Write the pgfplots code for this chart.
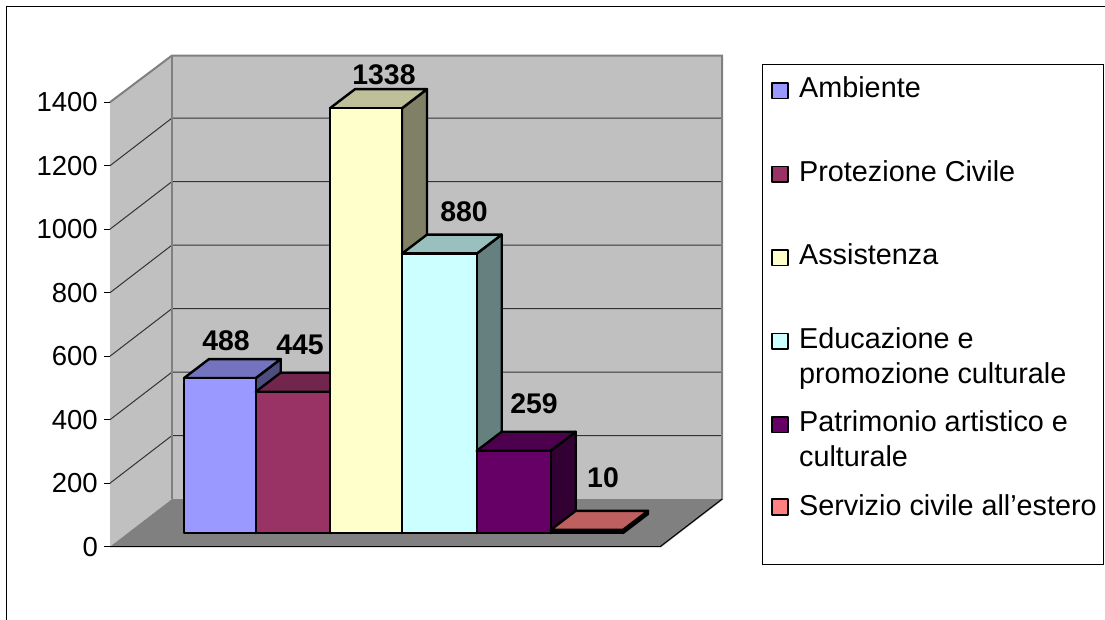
\documentclass[border=0pt]{standalone}
\usepackage{fontspec}
\setmainfont{Liberation Sans}
\usepackage{pgfplots}
\pgfplotsset{compat=1.18}
\definecolor{wallc}{HTML}{C0C0C0}
\definecolor{floorc}{HTML}{808080}
\definecolor{aF}{HTML}{9999FF}\definecolor{aT}{HTML}{7373BF}\definecolor{aS}{HTML}{4D4D80}
\definecolor{bF}{HTML}{993366}\definecolor{bT}{HTML}{73264D}\definecolor{bS}{HTML}{4D1A33}
\definecolor{cF}{HTML}{FFFFCC}\definecolor{cT}{HTML}{BFBF99}\definecolor{cS}{HTML}{808066}
\definecolor{dF}{HTML}{CCFFFF}\definecolor{dT}{HTML}{99BFBF}\definecolor{dS}{HTML}{668080}
\definecolor{eF}{HTML}{660066}\definecolor{eT}{HTML}{4D004D}\definecolor{eS}{HTML}{330033}
\definecolor{fF}{HTML}{FF8080}\definecolor{fT}{HTML}{BF6060}\definecolor{fS}{HTML}{804040}
\pgfplotsset{
  swA/.style={legend image code/.code={\path (3pt,20pt);\draw[##1,line width=1.8pt] (7pt,14.5pt) rectangle ++(15.5pt,15.5pt);}},
  swB/.style={legend image code/.code={\path (3pt,20pt);\draw[##1,line width=1.8pt] (7pt,8.5pt) rectangle ++(15.5pt,15.5pt);}},
}
% bar: x0, x1, value, front colour, top colour, side colour, legend text, swatch style
\newcommand{\threedbar}[8]{%
  \pgfmathsetmacro{\yBase}{43}%
  \pgfmathsetmacro{\yTop}{43+#3}%
  \pgfmathsetmacro{\yBack}{43+#3+60}%
  \pgfmathsetmacro{\yBaseBack}{43+60}%
  \pgfmathsetmacro{\xA}{#1+25}%
  \pgfmathsetmacro{\xB}{#2+25}%
  \addplot[forget plot,draw=black,line width=2.4pt,line join=round,fill=#6]
    coordinates {(#2,\yBase)(\xB,\yBaseBack)(\xB,\yBack)(#2,\yTop)} -- cycle;
  \addplot[forget plot,draw=black,line width=2.4pt,line join=round,fill=#5]
    coordinates {(#1,\yTop)(#2,\yTop)(\xB,\yBack)(\xA,\yBack)} -- cycle;
  \addplot[#8,draw=black,line width=2.4pt,line join=round,fill=#4]
    coordinates {(#1,\yBase)(#2,\yBase)(#2,\yTop)(#1,\yTop)} -- cycle;
  \addlegendentry{#7}%
}
\newcommand{\legtxt}[2][79.5pt]{\parbox[t][#1][t]{298pt}{\strut #2}}
\newcommand{\vallab}{\bfseries\fontsize{28.4}{30}\selectfont}
\begin{document}
\begin{tikzpicture}
\useasboundingbox (0,0) rectangle (1105pt,620pt);
\draw[black,line width=1pt] (6.5pt,0) -- (6.5pt,613.5pt) -- (1105pt,613.5pt);
\begin{axis}[
  at={(110pt,73.3pt)},anchor=south west,
  scale only axis,width=550pt,height=444.5pt,
  xmin=110,xmax=660,ymin=0,ymax=1400,
  clip=false,
  axis x line=none,
  axis y line=left,
  axis line style={-,black,line width=1pt},
  xtick=\empty,
  ytick={0,200,400,600,800,1000,1200,1400},
  tick align=outside,
  major tick length=6pt,
  tick style={black,line width=1pt},
  yticklabel style={font=\fontsize{27.5}{30}\selectfont,
    /pgf/number format/assume math mode=true,
    /pgf/number format/set thousands separator={},inner xsep=6pt},
  legend cell align=left,
  legend style={
    at={(1.1855,1.0866)},anchor=north west,
    draw=black,line width=1pt,
    font=\fontsize{28.8}{35}\selectfont,
    nodes={text depth=,text height=},
    inner xsep=4.5pt,inner ysep=7pt,
    row sep=0pt,
    /tikz/every odd column/.append style={column sep=8.5pt},
  },
]
% walls and floor
\addplot[forget plot,fill=wallc,draw=none] coordinates {(110,0)(172,150)(172,1547)(110,1400)} -- cycle;
\addplot[forget plot,fill=wallc,draw=none] coordinates {(172,150)(722,150)(722,1547)(172,1547)} -- cycle;
\addplot[forget plot,fill=floorc,draw=none] coordinates {(110,0)(660,0)(722,150)(172,150)} -- cycle;
% gridlines
\addplot[forget plot,black!80,line width=1pt] coordinates {(110,200)(172,350)(722,350)};
\addplot[forget plot,black!80,line width=1pt] coordinates {(110,400)(172,550)(722,550)};
\addplot[forget plot,black!80,line width=1pt] coordinates {(110,600)(172,750)(722,750)};
\addplot[forget plot,black!80,line width=1pt] coordinates {(110,800)(172,950)(722,950)};
\addplot[forget plot,black!80,line width=1pt] coordinates {(110,1000)(172,1150)(722,1150)};
\addplot[forget plot,black!80,line width=1pt] coordinates {(110,1200)(172,1350)(722,1350)};
% wall borders
\addplot[forget plot,floorc,line width=2pt] coordinates {(110,1400)(172,1547)(722,1547)(722,150)(660,0)};
\addplot[forget plot,floorc,line width=2pt] coordinates {(172,150)(172,1547)};
\addplot[forget plot,black,line width=1pt] coordinates {(110,0)(660,0)(722,150)};
% bars
\threedbar{184}{255.7}{488}{aF}{aT}{aS}{\legtxt{Ambiente}}{swA}
\threedbar{255.7}{330}{445}{bF}{bT}{bS}{\legtxt{Protezione Civile}}{swA}
\threedbar{330}{402}{1338}{cF}{cT}{cS}{\legtxt{Assistenza}}{swA}
\threedbar{402}{476.7}{880}{dF}{dT}{dS}{\legtxt{Educazione e\\promozione culturale}}{swA}
\threedbar{476.7}{550.7}{259}{eF}{eT}{eS}{\legtxt{Patrimonio artistico e\\culturale}}{swA}
\threedbar{550.7}{623}{10}{fF}{fT}{fS}{\legtxt[65pt]{Servizio civile all’estero}}{swB}
\addplot[forget plot,black,line width=3.5pt] coordinates {(550.7,48)(623,48)};
% value labels
\node[font=\vallab] at (axis cs:226,{(546.7-341)/0.3175}) {488};
\node[font=\vallab] at (axis cs:300,{(546.7-345)/0.3175}) {445};
\node[font=\vallab] at (axis cs:384,{(546.7-75)/0.3175}) {1338};
\node[font=\vallab] at (axis cs:464,{(546.7-212)/0.3175}) {880};
\node[font=\vallab] at (axis cs:534,{(546.7-404)/0.3175}) {259};
\node[font=\vallab] at (axis cs:603,{(546.7-478)/0.3175}) {10};
\end{axis}
\end{tikzpicture}
\end{document}
